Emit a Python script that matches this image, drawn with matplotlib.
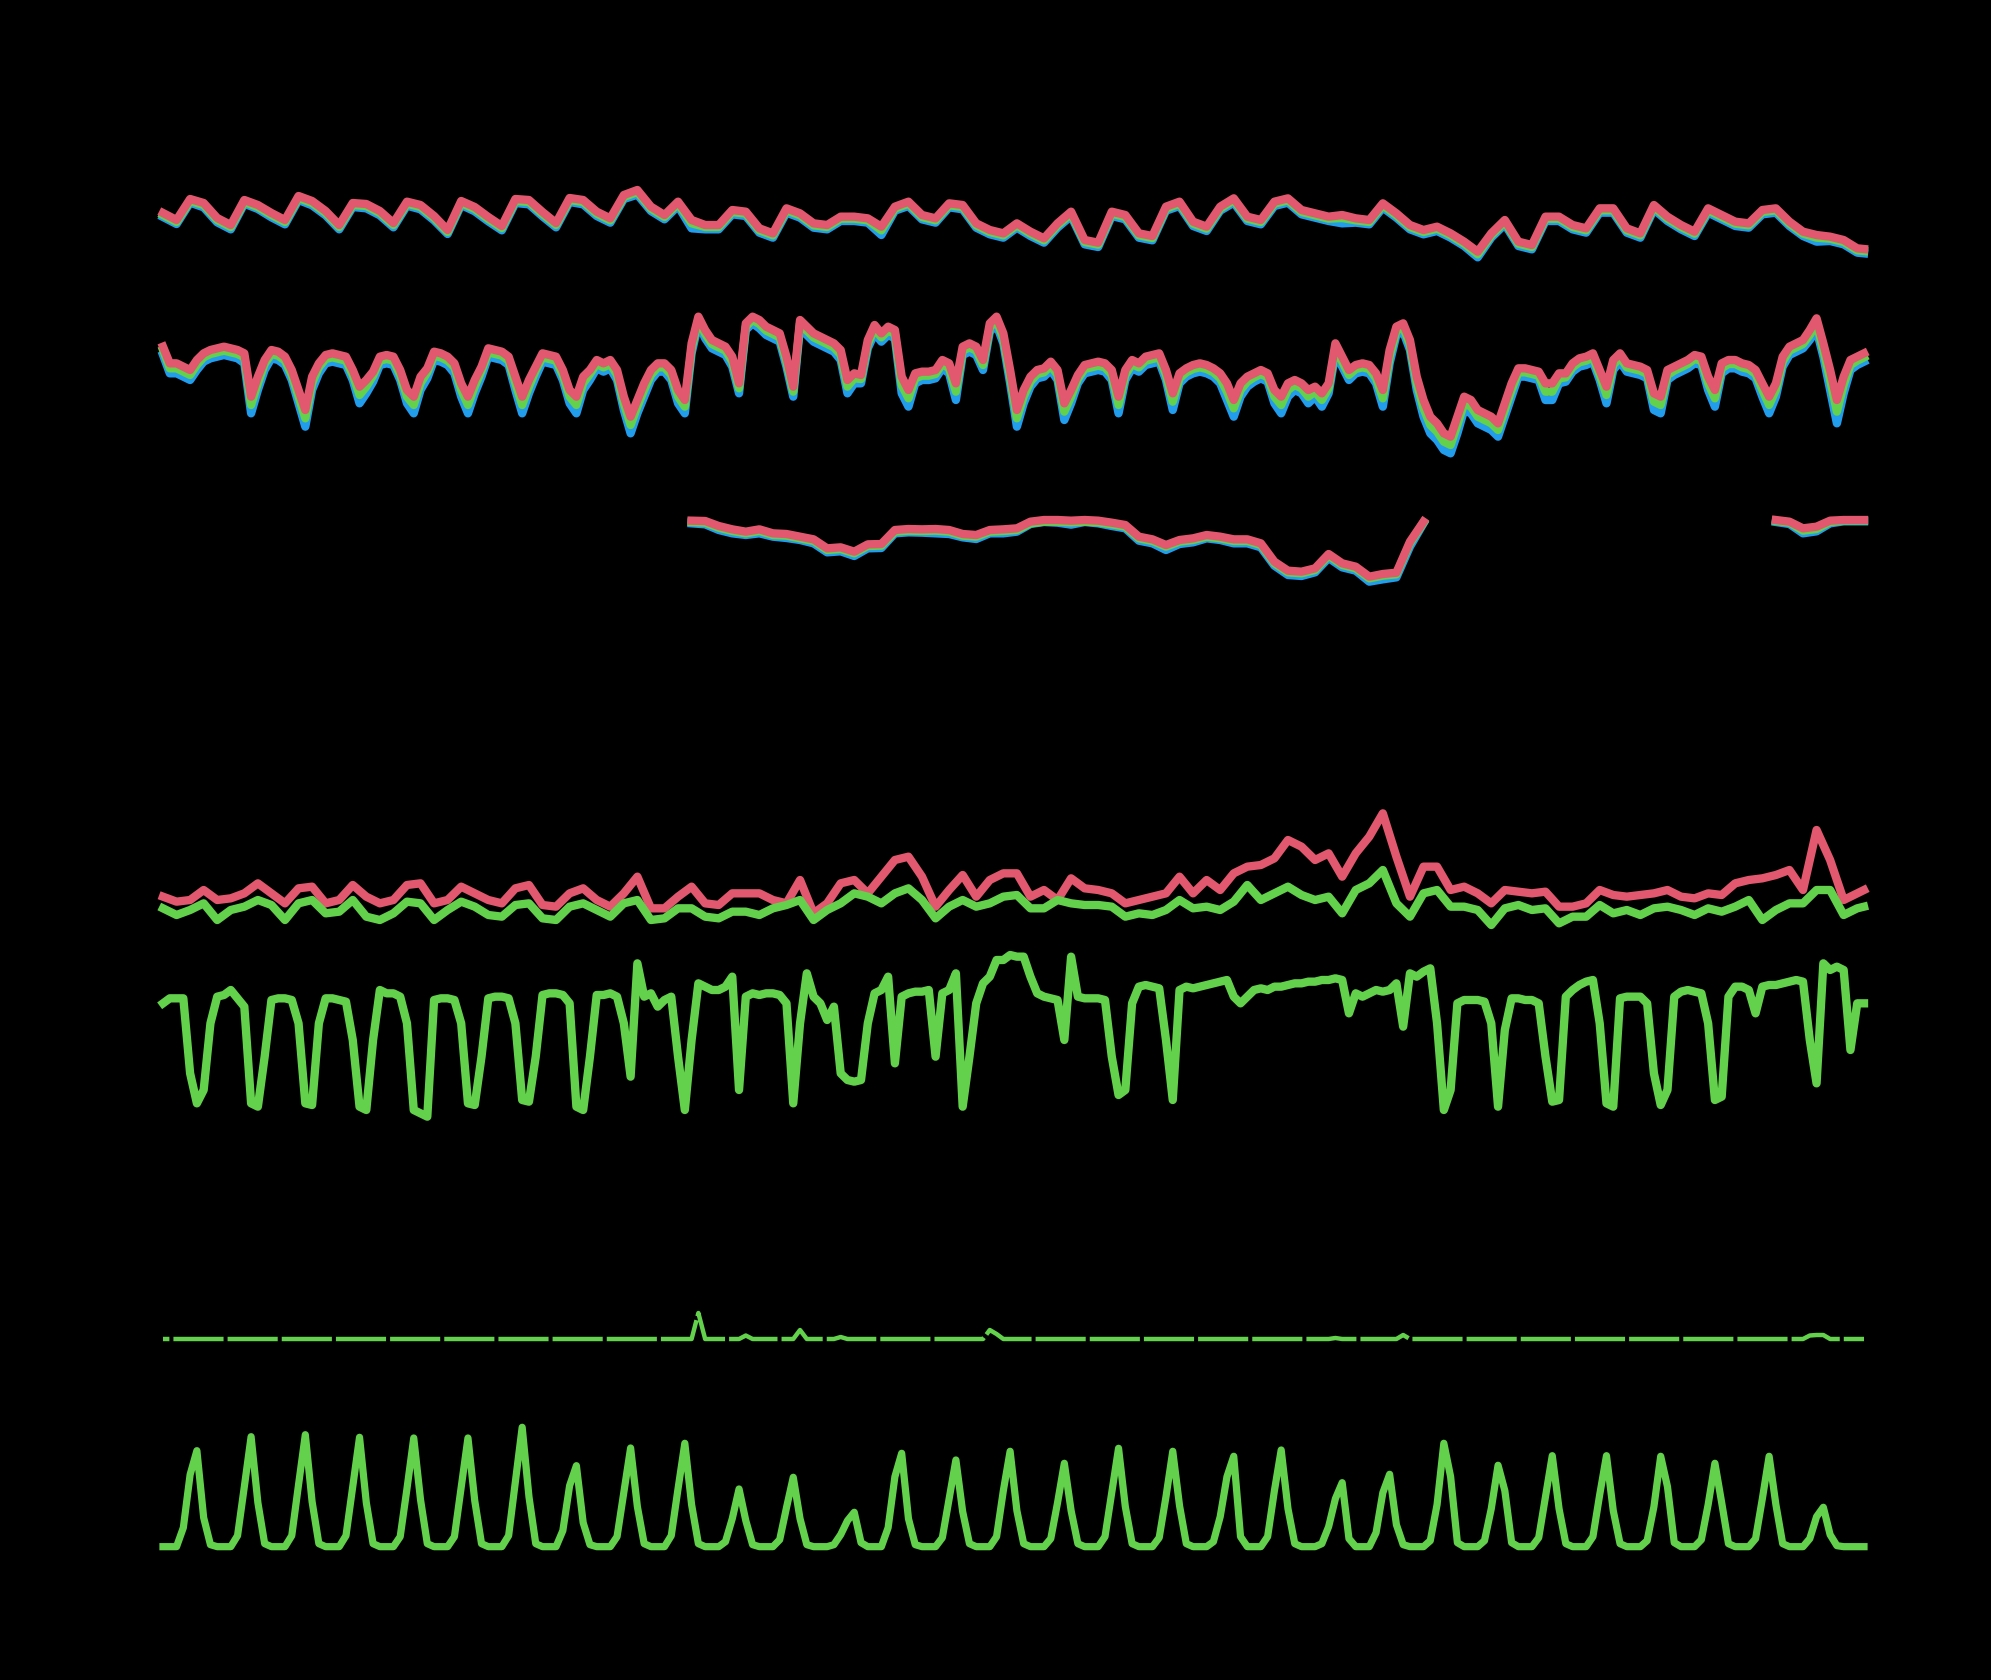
import numpy as np
import matplotlib
matplotlib.use("Agg")
import matplotlib.pyplot as plt

plt.rcParams['lines.scale_dashes'] = False

nan = np.nan
RED = '#e1586f'
BLUE = '#229ded'
GREEN = '#63d14b'

# time axis in hours from the first reading
hours6 = np.r_[np.arange(0, 751, 6), 753]
hours3 = np.arange(0, 754, 3)

# panel 1 - temperature (three sensors), 6-hourly
temp_red = [
    16.1, 14.0, 20.3, 19.1,  14.6, 12.5, 20.0, 18.5,  16.1, 14.0, 21.2, 19.7,
    16.7, 12.5, 19.1, 18.8,  16.7, 13.1, 19.5, 18.5,  15.2, 11.0, 19.7, 17.9,
    14.9, 12.2, 20.3, 20.0,  16.4, 13.1, 20.6, 20.0,  16.5, 14.5, 21.5, 23.0,
    18.0, 15.5, 19.5, 14.0,  12.5, 12.5, 17.0, 16.5,  11.5, 10.0, 17.5, 16.0,
    13.0, 12.5, 15.0, 15.0,  14.5, 12.0, 18.0, 19.5,  15.5, 14.5, 19.0, 18.5,
    13.0, 11.0, 10.0, 13.0,  10.5, 8.5, 13.0, 16.5,   8.0, 7.2, 16.5, 15.5,
    10.0, 9.2, 18.0, 19.5,   13.5, 12.0, 18.0, 20.5,  15.0, 14.0, 19.5, 20.5,
    17.0, 16.0, 15.0, 15.5,  14.5, 14.0, 19.0, 16.0,  12.5, 11.0, 12.0, 10.0,
    7.5, 4.5, 10.0, 14.0,    7.5, 6.5, 15.0, 15.0,    12.5, 11.5, 17.5, 17.5,
    11.5, 10.0, 18.5, 15.0,  12.5, 10.5, 17.5, 15.5,  13.5, 13.0, 17.0, 17.5,
    13.5, 10.5, 9.5, 9.0,    8.0, 5.5, 5.3,
]
temp_blue = [
    14.9, 12.8, 19.2, 17.8,  13.3, 11.2, 18.9, 17.3,  14.8, 12.7, 20.0, 18.4,
    15.4, 11.2, 17.9, 17.5,  15.4, 11.8, 18.3, 17.2,  13.9, 9.8, 18.5, 16.6,
    13.6, 10.9, 19.1, 18.7,  15.1, 11.8, 19.4, 18.7,  15.2, 13.2, 20.3, 21.6,
    16.7, 14.2, 18.2, 11.5,  11.2, 11.2, 15.7, 15.2,  10.2, 8.7, 16.2, 14.7,
    11.7, 11.2, 13.7, 13.7,  13.2, 9.5, 16.8, 18.2,   14.2, 13.2, 17.8, 17.2,
    11.7, 9.7, 8.7, 11.7,    9.2, 7.2, 11.7, 15.2,    6.7, 5.9, 15.2, 14.2,
    8.7, 7.9, 16.8, 18.2,    12.2, 10.7, 16.8, 19.2,  13.7, 12.7, 18.2, 19.2,
    15.7, 14.7, 13.7, 13.0,  13.2, 12.7, 17.7, 14.7,  11.2, 9.7, 10.7, 8.7,
    6.2, 2.8, 8.7, 12.7,     6.2, 5.2, 13.7, 13.7,    11.2, 10.2, 16.2, 16.2,
    10.2, 8.7, 17.2, 13.7,   11.2, 9.2, 16.2, 14.2,   12.2, 11.7, 15.7, 16.2,
    12.2, 9.2, 7.5, 7.7,     6.7, 4.2, 4.0,
]
temp_green = [
    15.5, 13.4, 19.7, 18.5,  14.0, 11.9, 19.4, 17.9,  15.5, 13.4, 20.6, 19.1,
    16.1, 11.9, 18.5, 18.2,  16.1, 12.5, 18.9, 17.9,  14.6, 10.4, 19.1, 17.3,
    14.3, 11.6, 19.7, 19.4,  15.8, 12.5, 20.0, 19.4,  15.9, 13.9, 20.9, 22.4,
    17.4, 14.9, 18.9, 13.0,  11.9, 11.9, 16.4, 15.9,  10.9, 9.4, 16.9, 15.4,
    12.4, 11.9, 14.4, 14.4,  13.9, 10.9, 17.4, 18.9,  14.9, 13.9, 18.4, 17.9,
    12.4, 10.4, 9.4, 12.4,   9.9, 7.9, 12.4, 15.9,    7.4, 6.6, 15.9, 14.9,
    9.4, 8.6, 17.4, 18.9,    12.9, 11.4, 17.4, 19.9,  14.4, 13.4, 18.9, 19.9,
    16.4, 15.4, 14.4, 14.6,  13.9, 13.4, 18.4, 15.4,  11.9, 10.4, 11.4, 9.4,
    6.9, 3.7, 9.4, 13.4,     6.9, 5.9, 14.4, 14.4,    11.9, 10.9, 16.9, 16.9,
    10.9, 9.4, 17.9, 14.4,   11.9, 9.9, 16.9, 14.9,   12.9, 12.4, 16.4, 16.9,
    12.9, 9.9, 8.7, 8.4,     7.4, 4.9, 4.7,
]

# panel 2 - relative humidity (three sensors), 3-hourly
hum_red = [
    81, 76, 76, 75, 74, 77, 79, 80,
    80.5, 81, 80.5, 80, 79, 66, 72, 77,
    80, 79.5, 78, 74, 68, 62, 72, 76,
    78.5, 79, 78.5, 78, 74, 69, 71, 73.5,
    78, 78.5, 78, 74, 68, 66, 72, 74.5,
    79.5, 79, 78, 76, 70, 66, 71, 75,
    80.5, 80, 79.5, 78, 72, 66, 71, 75,
    79, 78.5, 78, 74, 68, 66, 72, 74,
    77, 76, 77, 74, 66, 60, 65, 70,
    74, 76, 76, 74, 68, 65, 82, 90,
    86, 83, 82, 81, 78, 70, 88, 90,
    89, 87, 86, 85, 78, 69, 89, 87,
    85, 84, 83, 82, 80, 71, 73, 72.5,
    83, 87.5, 85, 87, 86, 72, 68, 73,
    73.5, 73.5, 74, 77, 76, 70, 81, 82,
    81, 77, 88, 90, 85, 74, 62, 68,
    72, 74, 74.5, 76.5, 74, 64, 68, 72.5,
    75.5, 76, 76.5, 76, 74, 66, 74, 77,
    76, 78, 78.5, 79, 74, 67, 73, 74.5,
    75.5, 76, 75.5, 74.5, 73, 70, 65, 70,
    72, 73, 74, 73, 68, 66, 70, 71,
    70, 68, 69, 67, 70, 82, 78, 74,
    75.5, 76, 75.5, 73, 68, 80, 87, 88,
    83, 72, 65, 60, 58, 55, 54, 60,
    66, 65, 62, 61, 60, 58, 64, 70,
    74.5, 74.5, 74, 73.5, 70, 70, 73, 73,
    76, 77.5, 78, 79, 74, 69, 77, 79,
    76, 75.5, 75, 74, 67, 66, 74, 75,
    76, 77, 78.5, 78, 72, 68, 76, 77,
    77, 76, 75.5, 74, 70, 66, 70, 78,
    81, 82, 83, 86, 89.5, 82, 74, 65,
    72, 77, 78, 79,
]
hum_blue = [
    78.5, 73, 73, 72, 71, 74, 76.5, 77.5,
    78, 78.5, 78, 77.5, 76, 61, 68, 74,
    77.5, 77, 75.5, 71, 64, 57, 68, 73,
    76, 76.5, 76, 75.5, 71, 64, 67, 70.5,
    75.5, 76, 75.5, 71, 64, 61, 68, 71.5,
    77, 76.5, 75.5, 73, 66, 61, 67, 72,
    78, 77.5, 77, 75.5, 68, 61, 67, 72,
    76.5, 76, 75.5, 71, 64, 61, 68, 71,
    74.5, 73.5, 74.5, 71, 62, 55, 61, 66,
    71, 73.5, 73.5, 71, 64, 61, 79, 88,
    83.5, 80.5, 79.5, 78.5, 75, 67, 86, 88,
    86.5, 84.5, 83.5, 82.5, 75, 66, 87, 84.5,
    82.5, 81.5, 80.5, 79.5, 77, 67, 70, 70,
    80.5, 85, 82.5, 84.5, 83.5, 67, 63, 70,
    71, 71, 71.5, 74.5, 73, 65, 78.5, 79.5,
    78.5, 74, 85.5, 87.5, 82, 70, 57, 64,
    69, 71.5, 72, 74, 71, 59, 64, 70,
    73, 73.5, 74, 73.5, 71, 61, 71, 74.5,
    73.5, 75.5, 76, 76.5, 71, 62, 70, 72,
    73, 73.5, 73, 72, 70, 65, 60, 66,
    69, 70.5, 71.5, 70.5, 64, 61, 66, 68,
    67, 64, 66, 63, 67, 79, 75, 71,
    73, 73.5, 73, 70, 63, 76, 84.5, 85.5,
    80, 68, 60, 55, 53, 50, 49, 55,
    62, 61, 58, 57, 56, 54, 60, 66,
    72, 72, 71.5, 71, 65, 65, 70, 70.5,
    73.5, 75, 75.5, 76.5, 71, 64, 74, 76.5,
    73.5, 73, 72.5, 71.5, 62, 61, 71, 72.5,
    73.5, 74.5, 76, 75.5, 68, 63, 73, 74.5,
    74.5, 73.5, 73, 71.5, 66, 61, 66, 75,
    78.5, 79.5, 80.5, 83, 86, 78, 68, 58,
    67, 74, 75.5, 76.5,
]
hum_green = [
    80, 74.5, 74.5, 73.5, 72.5, 75.5, 77.8, 78.8,
    79.3, 79.8, 79.3, 78.8, 77.8, 63.5, 70, 75.8,
    78.8, 78.3, 76.8, 72.5, 66, 59.5, 70, 74.8,
    77.3, 77.8, 77.3, 76.8, 72.5, 66.5, 69, 72.3,
    76.8, 77.3, 76.8, 72.5, 66, 63.5, 70, 73.3,
    78.3, 77.8, 76.8, 74.8, 68, 63.5, 69, 73.8,
    79.3, 78.8, 78.3, 76.8, 70, 63.5, 69, 73.8,
    77.8, 77.3, 76.8, 72.5, 66, 63.5, 70, 72.8,
    75.8, 74.8, 75.8, 72.5, 64, 57.5, 63, 68,
    72.5, 74.8, 74.8, 72.5, 66, 63, 80.5, 89,
    84.8, 81.8, 80.8, 79.8, 76.5, 68.5, 87, 89,
    87.8, 85.8, 84.8, 83.8, 76.5, 67.5, 88, 85.8,
    83.8, 82.8, 81.8, 80.8, 78.5, 69, 71.5, 71.3,
    81.8, 86.3, 83.8, 85.8, 84.8, 69.5, 65.5, 71.5,
    72.3, 72.3, 72.8, 75.8, 74.5, 67.5, 79.8, 80.8,
    79.8, 75.5, 86.8, 88.8, 83.5, 72, 59.5, 66,
    70.5, 72.8, 73.3, 75.3, 72.5, 61.5, 66, 71.3,
    74.3, 74.8, 75.3, 74.8, 72.5, 63.5, 72.5, 75.8,
    74.8, 76.8, 77.3, 77.8, 72.5, 64.5, 71.5, 73.3,
    74.3, 74.8, 74.3, 73.3, 71.5, 67.5, 62.5, 68,
    70.5, 71.8, 72.8, 71.8, 66, 63.5, 68, 69.5,
    68.5, 66, 67.5, 65, 68.5, 80.5, 76.5, 72.5,
    74.3, 74.8, 74.3, 71.5, 65.5, 78, 85.8, 86.8,
    81.5, 70, 62.5, 57.5, 55.5, 52.5, 51.5, 57.5,
    64, 63, 60, 59, 58, 56, 62, 68,
    73.3, 73.3, 72.8, 72.3, 67.5, 67.5, 71.5, 71.8,
    74.8, 76.3, 76.8, 77.8, 72.5, 66.5, 75.5, 77.8,
    74.8, 74.3, 73.8, 72.8, 64.5, 63.5, 72.5, 73.8,
    74.8, 75.8, 77.3, 76.8, 70, 65.5, 74.5, 75.8,
    75.8, 74.8, 74.3, 72.8, 68, 63.5, 68, 76.5,
    79.8, 80.8, 81.8, 84.5, 87.8, 80, 71, 61.5,
    69.5, 75.5, 76.8, 77.8,
]

# panel 3 - soil temperature (three probes, gaps where missing), 6-hourly
soil_red = [
    nan, nan, nan, nan,  nan, nan, nan, nan,  nan, nan, nan, nan,
    nan, nan, nan, nan,  nan, nan, nan, nan,  nan, nan, nan, nan,
    nan, nan, nan, nan,  nan, nan, nan, nan,  nan, nan, nan, nan,
    nan, nan, nan, 18.8,  18.7, 17.2, 16.2, 15.5,  16.2, 15.0, 14.8, 14.0,
    13.2, 10.5, 10.8, 9.5,  11.7, 11.8, 16.0, 16.3,  16.2, 16.3, 16.0, 14.8,
    14.5, 16.0, 16.2, 16.5,  18.5, 19.0, 19.0, 18.8,  19.0, 18.8, 18.2, 17.5,
    14.0, 13.2, 11.5, 13.0,  13.5, 14.5, 14.0, 13.2,  13.2, 12.0, 6.5, 3.8,
    3.5, 4.5, 8.8, 6.0,  5.0, 2.0, 2.8, 3.2,  12.5, 18.5, nan, nan,
    nan, nan, nan, nan,  nan, nan, nan, nan,  nan, nan, nan, nan,
    nan, nan, nan, nan,  nan, nan, nan, nan,  nan, nan, nan, 19.0,
    18.5, 16.5, 17.0, 18.8,  19.0, 19.0, 19.0,
]
soil_blue = [
    nan, nan, nan, nan,  nan, nan, nan, nan,  nan, nan, nan, nan,
    nan, nan, nan, nan,  nan, nan, nan, nan,  nan, nan, nan, nan,
    nan, nan, nan, nan,  nan, nan, nan, nan,  nan, nan, nan, nan,
    nan, nan, nan, 18.0,  17.7, 16.0, 15.0, 14.5,  15.0, 14.0, 13.6, 13.0,
    12.0, 9.3, 9.6, 8.2,  10.5, 10.6, 15.0, 15.3,  15.2, 15.0, 14.8, 13.8,
    13.3, 15.0, 15.0, 15.5,  17.8, 18.4, 18.2, 17.6,  18.4, 18.0, 17.2, 16.5,
    12.8, 12.0, 10.0, 11.8,  12.3, 13.5, 13.0, 12.0,  12.0, 10.8, 5.3, 2.5,
    2.2, 3.3, 7.6, 4.8,  3.8, 0.5, 1.2, 1.8,  11.0, 18.0, nan, nan,
    nan, nan, nan, nan,  nan, nan, nan, nan,  nan, nan, nan, nan,
    nan, nan, nan, nan,  nan, nan, nan, nan,  nan, nan, nan, 18.4,
    17.8, 15.0, 15.6, 18.0,  18.6, 18.6, 18.6,
]
soil_green = [
    nan, nan, nan, nan,  nan, nan, nan, nan,  nan, nan, nan, nan,
    nan, nan, nan, nan,  nan, nan, nan, nan,  nan, nan, nan, nan,
    nan, nan, nan, nan,  nan, nan, nan, nan,  nan, nan, nan, nan,
    nan, nan, nan, 18.4,  18.2, 16.7, 15.7, 15.0,  15.7, 14.5, 14.3, 13.5,
    12.7, 10.0, 10.3, 9.0,  11.2, 11.3, 15.5, 15.8,  15.7, 15.8, 15.5, 14.3,
    14.0, 15.5, 15.7, 16.0,  18.0, 18.5, 18.5, 18.3,  18.5, 18.3, 17.7, 17.0,
    13.5, 12.7, 11.0, 12.5,  13.0, 14.0, 13.5, 12.7,  12.7, 11.5, 6.0, 3.3,
    3.0, 4.0, 8.3, 5.5,  4.5, 1.5, 2.3, 2.7,  12.0, 18.2, nan, nan,
    nan, nan, nan, nan,  nan, nan, nan, nan,  nan, nan, nan, nan,
    nan, nan, nan, nan,  nan, nan, nan, nan,  nan, nan, nan, 18.7,
    18.2, 15.8, 16.3, 18.4,  18.8, 18.8, 18.8,
]

# panel 4 - wind gust (red) and mean wind (green), 6-hourly
gust = [
    9, 7.5, 8, 11,  8, 8.5, 10, 13,  10, 7, 11.5, 12,  7, 8, 12.5, 9,
    7, 8, 12.5, 13,  7, 8, 12, 10,  8, 7, 11.5, 12.5,  6.5, 6, 10, 11.5,
    8, 6, 10, 15,  5.5, 5.5, 9, 12,  7, 6.5, 10, 10,  10, 8, 7, 14,
    4, 7, 13, 14,  10, 15, 20, 21,  15, 6, 11, 15.5,  9, 14, 16, 16,
    9, 11, 8, 14.5,  11.5, 11, 10, 7,  8, 9, 10, 15,  10, 14, 11, 16,
    18, 18.5, 20.5, 26,  24, 20, 22, 15,  22, 27, 34, 21,  9, 18, 18, 11,
    12, 10, 7, 11,  10.5, 10, 10.5, 6,  6, 7, 11, 9.5,  9, 9.5, 10, 11,
    9, 8.5, 10, 9.5,  13, 14, 14.5, 15.5,  17, 11, 29, 20,  8, 10, 11,
]
wind = [
    5.5, 3.5, 5, 7,  2, 5, 6, 8,  6.5, 2, 7, 8,  4, 4.5, 8, 3,
    2, 4, 7.5, 7,  2, 5, 7.5, 6,  3.5, 3, 6.5, 7,  2.5, 2, 6, 7,
    5, 3, 7, 8,  2, 2.5, 5.5, 5.5,  3, 2.5, 4.5, 4.5,  3.5, 5.5, 6.5, 8,
    2, 5, 7, 10,  9, 7, 10, 11.5,  8, 2.5, 6, 8,  6, 7, 9, 9.5,
    5.5, 5.5, 8, 7,  6.5, 6.5, 6, 3,  4, 3.5, 5, 8,  5.5, 6, 5, 7.5,
    12.5, 8, 10, 12,  9.5, 8, 9, 4,  11, 13, 17, 7,  3, 10, 11, 6,
    6, 5, 0.5, 5.5,  6.5, 5, 5.5, 1,  3, 3, 6.5, 4,  5, 3.5, 5.5, 6,
    5, 3.5, 5.5, 4.5,  6, 8, 2, 5,  7, 7, 11, 11,  3.5, 5.5, 6,
]

# panel 5 - leaf wetness index, 3-hourly
wetness = [
    92, 95, 95, 95, 50, 32, 40, 80,
    96, 97, 100, 95, 90, 32, 30, 60,
    94, 95, 95, 94, 80, 32, 31, 80,
    95, 95, 94, 93, 70, 30, 28, 70,
    100, 98, 98, 96, 80, 28, 26, 24,
    94, 95, 95, 94, 80, 32, 31, 60,
    95, 96, 96, 95, 80, 34, 33, 60,
    97, 98, 98, 97, 92, 30, 28, 60,
    97, 97, 98, 96, 80, 48, 116, 96,
    98, 90, 94, 96, 60, 28, 70, 104,
    102, 100, 100, 102, 108, 40, 96, 98,
    97, 98, 98, 97, 92, 32, 80, 110,
    96, 92, 82, 90, 50, 46, 45, 46,
    80, 98, 100, 108, 56, 96, 98, 99,
    99, 100, 60, 98, 100, 110, 30, 60,
    92, 104, 108, 118, 118, 121, 120, 120,
    108, 98, 96, 95, 94, 70, 120, 96,
    95, 95, 95, 94, 60, 37, 40, 92,
    102, 103, 102, 101, 70, 34, 100, 102,
    101, 102, 103, 104, 105, 106, 96, 92,
    96, 100, 101, 100, 102, 102, 103, 104,
    104, 105, 105, 106, 106, 107, 106, 86,
    98, 96, 98, 100, 99, 100, 104, 78,
    110, 108, 111, 113, 80, 28, 40, 92,
    94, 94, 94, 93, 80, 30, 76, 95,
    95, 94, 94, 92, 60, 33, 34, 96,
    100, 103, 105, 106, 80, 32, 30, 95,
    96, 96, 96, 92, 50, 31, 40, 96,
    99, 100, 99, 98, 80, 34, 36, 96,
    102, 102, 100, 86, 102, 103, 103, 104,
    105, 106, 105, 70, 44, 116, 112, 114,
    112, 64, 92, 92,
]

# panel 6 - rainfall (mm), 3-hourly
rain = [
    0, 0, 0, 0, 0, 0, 0, 0,
    0, 0, 0, 0, 0, 0, 0, 0,
    0, 0, 0, 0, 0, 0, 0, 0,
    0, 0, 0, 0, 0, 0, 0, 0,
    0, 0, 0, 0, 0, 0, 0, 0,
    0, 0, 0, 0, 0, 0, 0, 0,
    0, 0, 0, 0, 0, 0, 0, 0,
    0, 0, 0, 0, 0, 0, 0, 0,
    0, 0, 0, 0, 0, 0, 0, 0,
    0, 0, 0, 0, 0, 0, 0, 2.6,
    0, 0, 0, 0, 0, 0, 0.35, 0,
    0, 0, 0, 0, 0, 0, 0.9, 0,
    0, 0, 0, 0, 0.2, 0, 0, 0,
    0, 0, 0, 0, 0, 0, 0, 0,
    0, 0, 0, 0, 0, 0, 0, 0,
    0, 0, 0.9, 0.5, 0, 0, 0, 0,
    0, 0, 0, 0, 0, 0, 0, 0,
    0, 0, 0, 0, 0, 0, 0, 0,
    0, 0, 0, 0, 0, 0, 0, 0,
    0, 0, 0, 0, 0, 0, 0, 0,
    0, 0, 0, 0, 0, 0, 0, 0,
    0, 0, 0, 0, 0, 0.1, 0, 0,
    0, 0, 0, 0, 0, 0, 0, 0.4,
    0, 0, 0, 0, 0, 0, 0, 0,
    0, 0, 0, 0, 0, 0, 0, 0,
    0, 0, 0, 0, 0, 0, 0, 0,
    0, 0, 0, 0, 0, 0, 0, 0,
    0, 0, 0, 0, 0, 0, 0, 0,
    0, 0, 0, 0, 0, 0, 0, 0,
    0, 0, 0, 0, 0, 0, 0, 0,
    0, 0, 0, 0.35, 0.4, 0.4, 0, 0,
    0, 0, 0, 0,
]

# panel 7 - solar radiation (W/m2), 3-hourly
solar = [
    0, 0, 0, 190, 720, 960, 290, 20,
    0, 0, 0, 110, 600, 1100, 440, 30,
    0, 0, 0, 110, 620, 1120, 450, 30,
    0, 0, 0, 110, 600, 1094, 440, 30,
    0, 0, 0, 100, 580, 1087, 470, 30,
    0, 0, 0, 100, 590, 1087, 460, 30,
    0, 0, 0, 110, 650, 1194, 500, 30,
    0, 0, 0, 160, 610, 810, 240, 20,
    0, 0, 0, 100, 540, 987, 400, 30,
    0, 0, 0, 110, 580, 1034, 420, 30,
    0, 0, 0, 50, 280, 577, 260, 20,
    0, 0, 0, 70, 390, 694, 280, 20,
    0, 0, 0, 20, 120, 260, 344, 40,
    0, 0, 0, 190, 700, 934, 280, 20,
    0, 0, 0, 90, 480, 867, 350, 30,
    0, 0, 0, 100, 560, 954, 360, 30,
    0, 0, 0, 80, 440, 834, 360, 30,
    0, 0, 0, 100, 540, 984, 400, 30,
    0, 0, 0, 90, 500, 954, 410, 30,
    0, 0, 0, 50, 300, 700, 904, 100,
    0, 0, 0, 100, 560, 967, 380, 30,
    0, 0, 0, 30, 200, 480, 640, 80,
    0, 0, 0, 140, 540, 724, 220, 20,
    0, 0, 0, 60, 420, 1034, 700, 40,
    0, 0, 0, 60, 380, 814, 560, 40,
    0, 0, 0, 90, 500, 910, 380, 30,
    0, 0, 0, 100, 520, 910, 360, 30,
    0, 0, 0, 60, 400, 904, 600, 40,
    0, 0, 0, 70, 420, 834, 440, 30,
    0, 0, 0, 80, 480, 904, 420, 30,
    0, 0, 0, 80, 300, 394, 120, 10,
    0, 0, 0, 0,
]

W, H = 1991, 1680
fig = plt.figure(figsize=(W / 100, H / 100), dpi=100, facecolor='black')


def panel(y_top, y_bottom, ylim):
    ax = fig.add_axes([163 / W, 1 - y_bottom / H, 1701 / W, (y_bottom - y_top) / H])
    ax.set_xlim(0, 753)
    ax.set_ylim(*ylim)
    ax.set_axis_off()
    return ax


ax1 = panel(180, 266.67, (0, 26))
ax1.plot(hours6, temp_blue, color=BLUE, lw=6, clip_on=False)
ax1.plot(hours6, temp_green, color=GREEN, lw=6, clip_on=False)
ax1.plot(hours6, temp_red, color=RED, lw=6, clip_on=False)

ax2 = panel(283.33, 483.33, (40, 100))
ax2.plot(hours3, hum_blue, color=BLUE, lw=6, clip_on=False)
ax2.plot(hours3, hum_green, color=GREEN, lw=6, clip_on=False)
ax2.plot(hours3, hum_red, color=RED, lw=6, clip_on=False)

ax3 = panel(500, 583.33, (0, 25))
ax3.plot(hours6, soil_blue, color=BLUE, lw=6, clip_on=False)
ax3.plot(hours6, soil_green, color=GREEN, lw=6, clip_on=False)
ax3.plot(hours6, soil_red, color=RED, lw=6, clip_on=False)

ax4 = panel(793.33, 926.67, (0, 40))
ax4.plot(hours6, gust, color=RED, lw=6, clip_on=False)
ax4.plot(hours6, wind, color=GREEN, lw=6, clip_on=False)

ax5 = panel(923.33, 1156.67, (0, 140))
ax5.plot(hours3, wetness, color=GREEN, lw=6, clip_on=False)

ax6 = panel(1309, 1339, (0, 3))
ax6.plot(hours3, rain, color=GREEN, lw=3.2, clip_on=False,
         linestyle=(31.5, (36.1, 2.9)))

ax7 = panel(1426.67, 1546.67, (0, 1200))
ax7.plot(hours3, solar, color=GREEN, lw=5.2, clip_on=False)

fig.savefig('out.png', dpi=100, facecolor='black')
